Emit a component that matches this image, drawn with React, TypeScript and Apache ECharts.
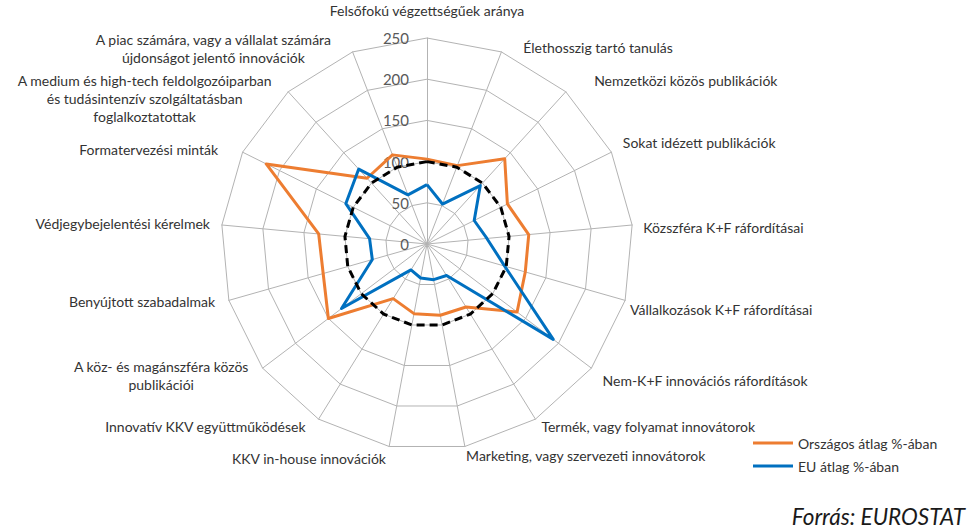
import React, { useEffect, useRef } from 'react';
import * as echarts from 'echarts';

// Indicators in the reference's clockwise order, starting at the top
const indicatorNames: string[] = [
  'Felsőfokú végzettségűek aránya',
  'Élethosszig tartó tanulás',
  'Nemzetközi közös publikációk',
  'Sokat idézett publikációk',
  'Közszféra K+F ráfordításai',
  'Vállalkozások K+F ráfordításai',
  'Nem-K+F innovációs ráfordítások',
  'Termék, vagy folyamat innovátorok',
  'Marketing, vagy szervezeti innovátorok',
  'KKV in-house innovációk',
  'Innovatív KKV együttműködések',
  'A köz- és magánszféra közös\npublikációi',
  'Benyújtott szabadalmak',
  'Védjegybejelentési kérelmek',
  'Formatervezési minták',
  'A medium és high-tech feldolgozóiparban\nés tudásintenzív szolgáltatásban\nfoglalkoztatottak',
  'A piac számára, vagy a vállalat számára\nújdonságot jelentő innovációk',
];

const orangeValues: number[] = [103, 102, 140, 109, 124, 124, 137, 90, 88, 86, 78, 150, 131, 132, 218, 108, 116];
const blueValues: number[] = [72, 52, 96, 64, 73, 98, 192, 45, 44, 42, 37, 130, 69, 70, 110, 123, 64];
const referenceValues: number[] = [100, 100, 100, 100, 100, 100, 100, 100, 100, 100, 100, 100, 100, 100, 100, 100, 100];

const axisMin = 0;
const axisMax = 250;
const seriesNames: string[] = ['Országos átlag %-ában', 'EU átlag %-ában'];
const sourceText = 'Forrás: EUROSTAT';

// label fine-tuning paddings [top, right, bottom, left] per indicator (reference order)
const namePadding: number[][] = [
  [0, 0, 13, 0],
  [0, 0, 0, 20],
  [0, 0, 16, 25],
  [0, 0, 14, 7],
  [5, 0, 0, 6],
  [16, 0, 0, 0],
  [18, 0, 0, 7],
  [6, 0, 0, 3],
  [8, 0, 0, 0],
  [14, 2, 0, 0],
  [6, 10, 0, 0],
  [8, 10, 0, 0],
  [0, 9, 0, 0],
  [0, 7, 3, 0],
  [0, 20, 0, 0],
  [20, 13, 0, 0],
  [2, 19, 0, 0],
];

const FONT = 'Lato, "Open Sans", sans-serif';
const TEXT_COLOR = '#333333';
const ORANGE = '#ED7D31';
const BLUE = '#0070C0';
const GRID = '#B3B3B3';

// ECharts places indicators counter-clockwise; reverse all but the first
function toChartOrder<T>(arr: T[]): T[] {
  return [arr[0], ...arr.slice(1).reverse()];
}

export default function App() {
  const ref = useRef<HTMLDivElement>(null);

  useEffect(() => {
    if (!ref.current) return;
    const chart = echarts.init(ref.current, null, { renderer: 'svg' });

    const rich: Record<string, any> = {};
    namePadding.forEach((pad, k) => {
      rich['n' + k] = {
        padding: pad,
        align: 'center',
        fontFamily: FONT,
        fontSize: 14,
        lineHeight: 18,
        color: TEXT_COLOR,
      };
    });

    const indicator = toChartOrder(indicatorNames).map((name, j) => {
      const ind: any = { name, min: axisMin, max: axisMax };
      if (j === 0) ind.axisLabel = { show: true };
      return ind;
    });

    chart.setOption({
      animation: false,
      backgroundColor: '#ffffff',
      title: {
        text: sourceText,
        right: 3,
        top: 505,
        padding: 0,
        textStyle: {
          fontFamily: FONT,
          fontSize: 22.5,
          lineHeight: 22,
          fontStyle: 'italic',
          fontWeight: 'normal',
          color: '#1a1a1a',
        },
      },
      legend: {
        data: seriesNames,
        orient: 'vertical',
        left: 753,
        top: 436,
        padding: 0,
        itemWidth: 40,
        itemHeight: 3,
        itemGap: 9,
        icon: 'rect',
        textStyle: { fontFamily: FONT, fontSize: 14, color: TEXT_COLOR },
      },
      radar: {
        center: [427, 244],
        radius: 206,
        startAngle: 90,
        splitNumber: 5,
        shape: 'polygon',
        nameGap: 5,
        axisName: {
          fontFamily: FONT,
          fontSize: 14,
          color: TEXT_COLOR,
          rich,
          formatter: (name: string) => {
            const k = indicatorNames.indexOf(name);
            return name
              .split('\n')
              .map((line) => `{n${k}|${line}}`)
              .join('\n');
          },
        },
        axisLine: { lineStyle: { color: GRID, width: 1 } },
        splitLine: { lineStyle: { color: GRID, width: 1 } },
        splitArea: { show: false },
        axisTick: { show: false },
        axisLabel: {
          show: false,
          margin: 18,
          fontFamily: FONT,
          fontSize: 15,
          color: '#595959',
        },
        indicator,
      },
      series: [
        {
          type: 'radar',
          name: seriesNames[0],
          symbol: 'none',
          lineStyle: { color: ORANGE, width: 3 },
          itemStyle: { color: ORANGE },
          data: [{ name: seriesNames[0], value: toChartOrder(orangeValues) }],
        },
        {
          type: 'radar',
          name: seriesNames[1],
          symbol: 'none',
          lineStyle: { color: BLUE, width: 3 },
          itemStyle: { color: BLUE },
          data: [{ name: seriesNames[1], value: toChartOrder(blueValues) }],
        },
        {
          type: 'radar',
          name: 'Referencia',
          symbol: 'none',
          lineStyle: { color: '#000000', width: 3, type: [8, 5] },
          itemStyle: { color: '#000000' },
          data: [{ name: 'Referencia', value: toChartOrder(referenceValues) }],
        },
      ],
    });

    return () => chart.dispose();
  }, []);

  return (
    <div
      ref={ref}
      style={{ position: 'fixed', left: 0, top: 0, width: 968, height: 528 }}
    />
  );
}
